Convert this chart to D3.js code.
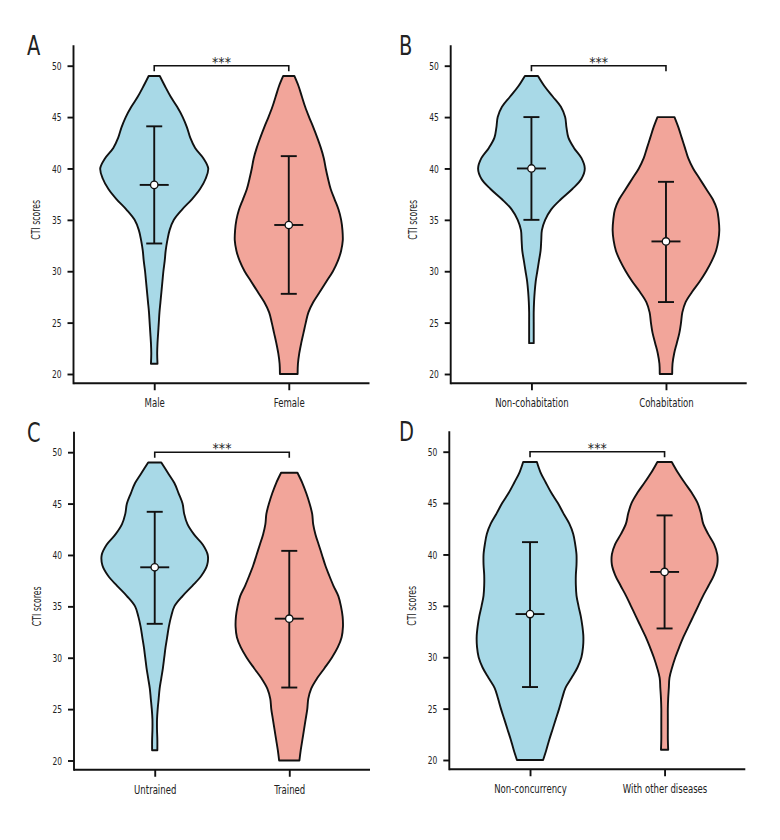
<!DOCTYPE html>
<html>
<head>
<meta charset="utf-8">
<script src="https://cdn.jsdelivr.net/npm/d3@7"></script>
<style>
  body { margin: 0; background: #fff; }
  svg text { font-family: "DejaVu Sans Condensed", "Liberation Sans Narrow", sans-serif; fill: #222; }
</style>
</head>
<body>
<div id="chart"></div>
<script>
// panel letters and groups
var panelLetters = ["A", "B", "C", "D"];
var groupNames = [
    ["Male", "Female"],
    ["Non-cohabitation", "Cohabitation"],
    ["Untrained", "Trained"],
    ["Non-concurrency", "With other diseases"]
];

// mean and mean +/- SD of CTI scores
var means  = [[38.4, 34.5], [40.0, 32.9], [38.8, 33.8], [34.2, 38.3]];
var sdLow  = [[32.7, 27.8], [35.0, 27.0], [33.3, 27.1], [27.1, 32.8]];
var sdHigh = [[44.1, 41.2], [45.0, 38.7], [44.2, 40.4], [41.2, 43.8]];

// lowest score of each violin, density read at every point upward
var violinMin = [[21, 20], [23, 20], [21, 20], [20, 21]];
var densMale = [10,9,10,12,14,16,19,22,25,28,32,35,40,47,60,85,115,140,157,165,150,125,110,100,87,70,50,33,17];
var densFemale = [27,28,32,38,45,52,60,75,95,115,135,150,160,165,164,160,152,140,128,120,113,107,98,87,75,62,50,40,30,17];
var densNonCohab = [7,7,7,7,8,10,13,18,23,28,30,32,42,60,90,125,153,163,153,130,113,107,103,90,65,40,20];
var densCohab = [19,20,25,33,41,46,50,60,80,103,123,140,153,160,163,161,156,143,123,103,83,68,58,48,38,26];
var densUntrained = [8,8,7,7,9,12,15,20,25,29,33,38,43,50,60,85,115,143,160,162,147,120,100,90,85,73,60,40,20];
var densTrained = [31,35,40,45,50,55,58,67,85,108,130,148,160,164,163,158,150,135,122,110,100,90,80,73,70,62,52,40,25];
var densNonConc = [40,50,59,69,79,89,98,108,127,145,157,162,163,160,155,148,142,140,140,142,142,138,132,120,102,85,65,48,32,21];
var densOther = [11,10,10,10,10,11,13,15,23,33,45,58,73,88,103,118,135,151,161,161,151,133,118,111,101,83,61,40,22];
var densities = [[densMale, densFemale], [densNonCohab, densCohab], [densUntrained, densTrained], [densNonConc, densOther]];

var yTicks = [20, 25, 30, 35, 40, 45, 50];
var sigLabel = "***";
var fillColors = ["#a8d9e7", "#f2a59a"];

var W = 780, H = 840;
var svg = d3.select("#chart").append("svg")
    .attr("width", W).attr("height", H);

// placement of the four panels
var panelPos = [
    {ax: 73.5, dy: 0, lx: 27},
    {ax: 450.7, dy: 0, lx: 399},
    {ax: 74, dy: 386.5, lx: 27},
    {ax: 449.3, dy: 386, lx: 399}
];

// the reference font is a narrow one, squeeze DejaVu Condensed to match
var SQ = 0.76;

panelLetters.forEach(function (letter, p) {
    var pos = panelPos[p];
    var g = svg.append("g").attr("transform", "translate(0," + pos.dy + ")");

    var y = d3.scaleLinear().domain([20, 50]).range([374, 65.7]);
    var x = d3.scalePoint().domain(groupNames[p]).range([pos.ax, pos.ax + 296]).padding(0.6);
    var half = d3.scaleLinear().domain([0, 165]).range([0, 54]);
    var yTop = y(52), yBot = y(19.1);

    // violins
    groupNames[p].forEach(function (name, k) {
        var dens = densities[p][k];
        var lo = violinMin[p][k];
        var pts = dens.map(function (d, i) { return {v: lo + i, w: d}; });
        var cx = x(name);
        var area = d3.area()
            .curve(d3.curveCatmullRom.alpha(0.5))
            .y(function (d) { return y(d.v); })
            .x0(function (d) { return cx - half(d.w); })
            .x1(function (d) { return cx + half(d.w); });
        g.append("path")
            .datum(pts)
            .attr("d", area)
            .attr("fill", fillColors[k])
            .attr("stroke", "#111")
            .attr("stroke-width", 1.9)
            .attr("stroke-linejoin", "round");

        // SD bar and mean
        var eb = g.append("g").attr("stroke", "#111").attr("stroke-width", 1.9);
        eb.append("line").attr("x1", cx).attr("x2", cx)
            .attr("y1", y(sdLow[p][k])).attr("y2", y(sdHigh[p][k]));
        [sdLow[p][k], sdHigh[p][k]].forEach(function (v) {
            eb.append("line").attr("x1", cx - 8).attr("x2", cx + 8)
                .attr("y1", y(v)).attr("y2", y(v));
        });
        eb.append("line").attr("x1", cx - 14.5).attr("x2", cx + 14.5)
            .attr("y1", y(means[p][k])).attr("y2", y(means[p][k]));
        g.append("circle")
            .attr("cx", cx).attr("cy", y(means[p][k]))
            .attr("r", 3.7)
            .attr("fill", "#fff")
            .attr("stroke", "#111")
            .attr("stroke-width", 1.3);
    });

    // axes
    var yAxis = g.append("g")
        .attr("transform", "translate(" + pos.ax + ",0)")
        .call(d3.axisLeft(y).tickValues(yTicks).tickSize(6).tickPadding(5));
    yAxis.select(".domain").remove();
    yAxis.append("line").attr("x1", 0).attr("x2", 0).attr("y1", yTop).attr("y2", yBot + 0.9)
        .attr("stroke", "#111").attr("stroke-width", 1.9);
    yAxis.selectAll(".tick line").attr("stroke", "#111").attr("stroke-width", 1.9);
    yAxis.selectAll(".tick text")
        .attr("font-size", 11)
        .attr("fill", "#222")
        .attr("x", -12 / SQ)
        .attr("transform", "scale(" + SQ + ",1)")
        .style("font-family", "'DejaVu Sans Condensed', sans-serif");

    var xAxis = g.append("g")
        .attr("transform", "translate(0," + yBot + ")")
        .call(d3.axisBottom(x).tickSize(7).tickPadding(8));
    xAxis.select(".domain").remove();
    xAxis.append("line").attr("x1", pos.ax).attr("x2", pos.ax + 296).attr("y1", 0).attr("y2", 0)
        .attr("stroke", "#111").attr("stroke-width", 1.9);
    xAxis.selectAll(".tick line").attr("stroke", "#111").attr("stroke-width", 1.9);
    xAxis.selectAll(".tick text")
        .attr("font-size", 12.5)
        .attr("fill", "#222")
        .attr("transform", "scale(" + SQ + ",1)")
        .style("font-family", "'DejaVu Sans Condensed', sans-serif");

    // y title
    g.append("text")
        .attr("transform", "translate(" + (pos.ax - 33.5) + "," + ((y(20) + y(50)) / 2) + ") rotate(-90) scale(0.72,1)")
        .attr("text-anchor", "middle")
        .attr("font-size", 12)
        .text("CTI scores");

    // significance bracket
    var x1 = x(groupNames[p][0]), x2 = x(groupNames[p][1]);
    g.append("path")
        .attr("d", "M" + x1 + "," + y(49.45) + "V" + y(50) + "H" + x2 + "V" + y(49.45))
        .attr("fill", "none").attr("stroke", "#111").attr("stroke-width", 1.6);
    g.append("text")
        .attr("x", (x1 + x2) / 2).attr("y", y(50) + 1)
        .attr("text-anchor", "middle")
        .attr("font-size", 14)
        .text(sigLabel);

    // panel letter
    g.append("text")
        .attr("transform", "translate(" + pos.lx + ",55) scale(0.8,1)")
        .attr("font-size", 27)
        .text(letter);
});
</script>
</body>
</html>
